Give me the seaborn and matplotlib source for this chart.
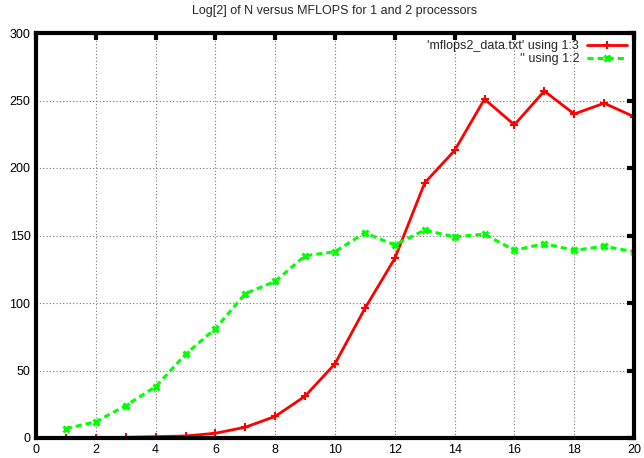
import matplotlib
matplotlib.use("Agg")
import matplotlib.pyplot as plt
import seaborn as sns
import pandas as pd

log2_n = list(range(1, 21))
mflops_1to3 = [0.2, 0.3, 0.5, 1, 1.5, 3.5, 8, 16, 31, 55,
               96, 133, 189, 213, 251, 232, 257, 240, 248, 238]
mflops_1to2 = [7, 12, 24, 38, 62, 81, 107, 116, 135, 138,
               152, 143, 154, 149, 151, 139, 144, 139, 142, 138]

df = pd.DataFrame({"n": log2_n, "c3": mflops_1to3, "c2": mflops_1to2})

sns.set_style("white")
plt.rcParams['font.family'] = ['Liberation Sans', 'DejaVu Sans']

fig = plt.figure(figsize=(6.44, 4.58), dpi=100)
ax = fig.add_axes([36 / 644, 1 - 438 / 458, 598 / 644, 405 / 458])

red = "#ff0000"
green = "#00ff00"
sns.lineplot(data=df, x="n", y="c3", ax=ax, color=red, lw=2,
             marker="+", markersize=5.5, markeredgewidth=1.5,
             markeredgecolor=red, markerfacecolor=red,
             label="'mflops2_data.txt' using 1:3")
sns.lineplot(data=df, x="n", y="c2", ax=ax, color=green, lw=2.2,
             linestyle=(0, (2, 1.3)), marker="x", markersize=5,
             markeredgewidth=2.2, markeredgecolor=green,
             markerfacecolor=green, label="'' using 1:2")

ax.set_xlim(0, 20)
ax.set_ylim(0, 300)
ax.set_xticks(range(0, 21, 2))
ax.set_yticks(range(0, 301, 50))
ax.grid(True, color="#777777", linestyle=(0, (1, 2)), lw=0.8)
for s in ax.spines.values():
    s.set_linewidth(3)
    s.set_color("black")
ax.tick_params(direction="in", length=5, width=3, top=True, right=True,
               labelsize=9, pad=4, colors="black")
ax.set_xlabel("")
ax.set_ylabel("")
ax.set_title("Log[2] of N versus MFLOPS for 1 and 2 processors",
             fontsize=9, pad=14)

ax.legend(loc="upper right", frameon=False, markerfirst=False, fontsize=9,
          handlelength=3.2, labelspacing=0.05, borderaxespad=0.2,
          handletextpad=0.6)

fig.savefig("out.png", dpi=100)
